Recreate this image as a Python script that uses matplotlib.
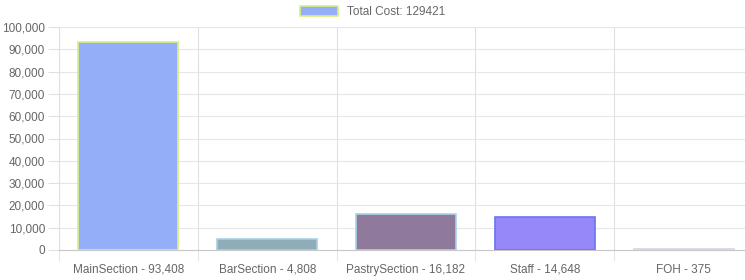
import matplotlib.pyplot as plt
from matplotlib.patches import Patch
from matplotlib.ticker import FuncFormatter, MultipleLocator

categories = ['MainSection', 'BarSection', 'PastrySection', 'Staff', 'FOH']
values = [93408, 4808, 16182, 14648, 375]
fill_colors = ['#94aff8', '#8fadb8', '#8f7a9c', '#9688f8', '#dcd0ec']
edge_colors = ['#d8f080', '#a8d0e0', '#a8d4e8', '#6a74f0', '#dcd0ec']
total = sum(values)

labels = [f'{c} - {v:,}' for c, v in zip(categories, values)]

plt.rcParams['font.family'] = ['Liberation Sans', 'DejaVu Sans']

fig = plt.figure(figsize=(7.45, 2.8), dpi=100)
ax = fig.add_axes([59 / 745, 30 / 280, 694 / 745, 223 / 280])

x = range(len(values))
ax.bar(x, values, width=0.72, color=fill_colors, edgecolor=edge_colors, linewidth=1.2, zorder=3)

ax.set_xlim(-0.5, len(values) - 0.5)
ax.set_ylim(0, 100000)
ax.yaxis.set_major_locator(MultipleLocator(10000))
ax.yaxis.set_major_formatter(FuncFormatter(lambda v, p: f'{int(v):,}'))

# category boundaries for vertical grid
ax.set_xticks([i - 0.5 for i in range(len(values) + 1)], minor=True)
ax.set_xticks(list(x))
ax.set_xticklabels(labels)
ax.grid(True, which='minor', axis='x', color='#e0e0e0', linewidth=0.8, zorder=0)
ax.grid(True, which='major', axis='y', color='#e6e6e6', linewidth=0.8, zorder=0)
ax.tick_params(axis='x', which='major', length=0, pad=10, labelsize=8.5, colors='#666666')
ax.tick_params(axis='x', which='minor', length=8, color='#e0e0e0')
ax.tick_params(axis='y', length=8, color='#e0e0e0', labelsize=8.5, colors='#666666', pad=2)

for s in ['top', 'right']:
    ax.spines[s].set_visible(False)
ax.spines['left'].set_color('#e0e0e0')
ax.spines['bottom'].set_color('#c8c8c8')

handle = Patch(facecolor=fill_colors[0], edgecolor=edge_colors[0], linewidth=1.2)
fig.legend([handle], [f'Total Cost: {total}'], loc='upper center', bbox_to_anchor=(0.5, 1.0),
           frameon=False, fontsize=8.5, handlelength=3.2, handleheight=0.9,
           labelcolor='#666666', borderaxespad=0.1)

fig.savefig('out.png', dpi=100)
